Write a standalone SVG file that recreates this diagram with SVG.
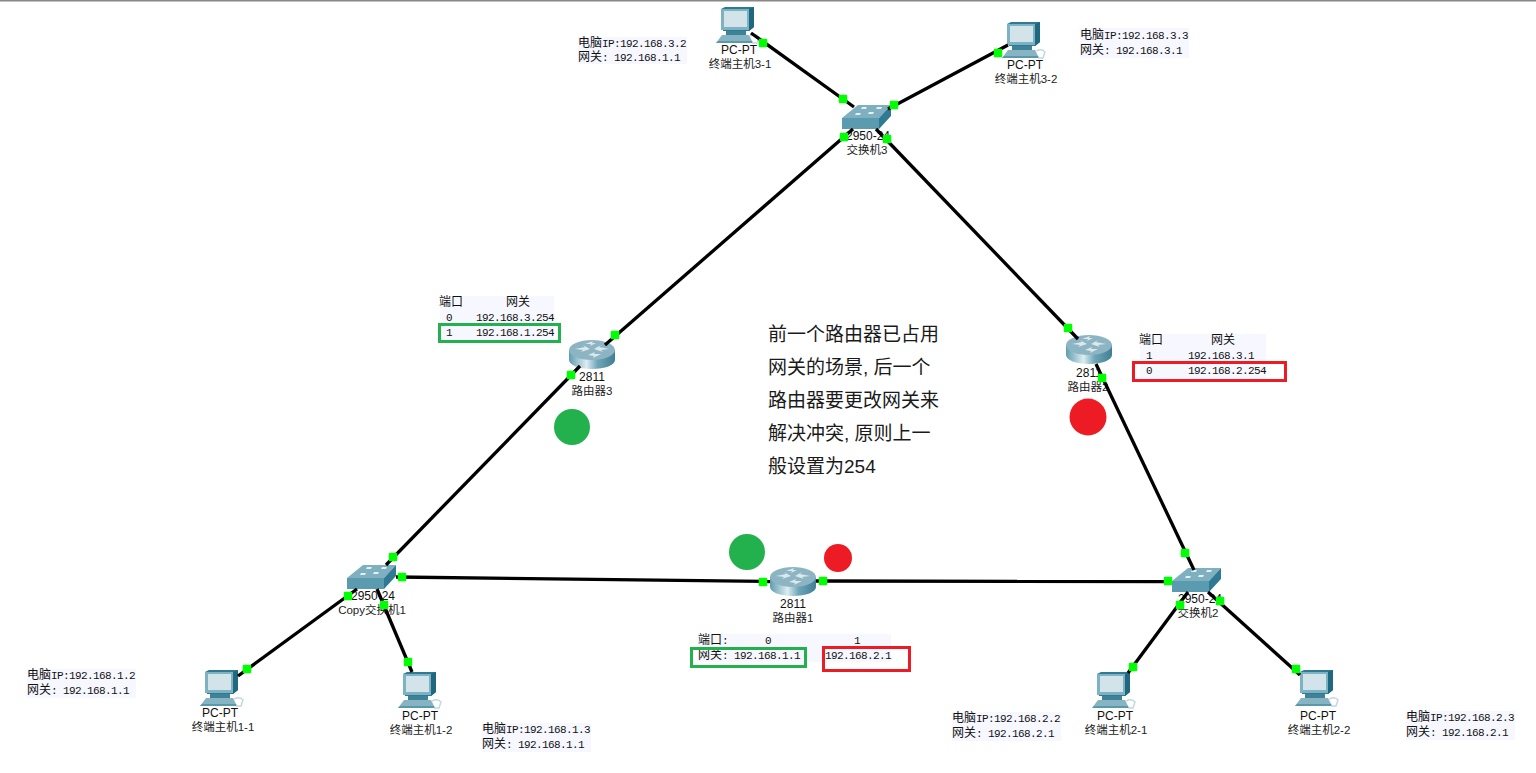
<svg xmlns="http://www.w3.org/2000/svg" width="1536" height="773" viewBox="0 0 1536 773">
<style>
text{fill:#111}
.d{font:12px "Liberation Sans","Noto Sans CJK SC",sans-serif;text-anchor:middle}
.n{font:11.500px "Liberation Sans","Noto Sans CJK SC",sans-serif;text-anchor:middle;fill:#222}
.m{font:11px "Liberation Mono","Noto Sans CJK SC",monospace;letter-spacing:-.6px}
.c{font-size:12px;font-family:"Noto Sans CJK SC",sans-serif;letter-spacing:0}
.bg{fill:#f7f8ff}
.big{font:19px "Liberation Sans","Noto Sans CJK SC",sans-serif;fill:#1a1a1a}
.l{fill:none;stroke:#000;stroke-width:3.300}
.p{fill:#0f0;stroke:#0f0;stroke-width:2.500;stroke-linejoin:round}
.gr{fill:none;stroke:#22b14c;stroke-width:3}
.rd{fill:none;stroke:#ed1c24;stroke-width:3}
</style>
<defs>
<linearGradient id="cyl" x1="0" x2="1" y1="0" y2="0">
<stop offset="0" stop-color="#5f9db0"/><stop offset=".38" stop-color="#dcecf0"/><stop offset=".62" stop-color="#6fa6b8"/><stop offset="1" stop-color="#3f7f94"/>
</linearGradient>
<symbol id="pc" width="48" height="38" viewBox="0 0 48 38" overflow="visible">
<path d="M10 24H30V29H10Z" fill="#3f8298"/>
<path d="M0 37 6 29H33L37 37Z" fill="#86b4c3"/>
<path d="M0 37H37L36 35H2Z" fill="#5b98ac"/>
<path d="M5 3 9 1H38V21L33 25H7Z" fill="#2f7a92"/>
<path d="M5 3H33V24H5Z" fill="#7db2c2"/>
<path d="M8 5H31V21H8Z" fill="#d2e3ea"/>
<path d="M33 3 38 1V21L33 25Z" fill="#1f6880"/>
<path d="M34 30Q40 27 43 31L41 37H36" fill="none" stroke="#c3d8df" stroke-width="1.500"/>
</symbol>
<symbol id="rt" width="46" height="30" viewBox="0 0 46 30" overflow="visible">
<path d="M0 10V20C0 25 10 29 23 29S46 25 46 20V10Z" fill="url(#cyl)"/>
<ellipse cx="23" cy="10" rx="23" ry="10" fill="#8db4c3"/>
<path d="M6 9 16 7 14 5 21 9 12 12 14 10ZM40 9 30 7 32 5 25 9 34 12 32 10ZM19 15 26 12 25 14 32 14 24 18 25 16ZM27 3 21 6 22 4 16 4 24 1 23 3Z" fill="#dbe8ec"/>
</symbol>
<symbol id="sw" width="50" height="24" viewBox="0 0 50 24" overflow="visible">
<path d="M0 13 16 0H49L37 13Z" fill="#7fb0c0"/>
<path d="M0 13H37V24H0Z" fill="#5b9bb0"/>
<path d="M37 13 49 0V11L37 24Z" fill="#2f7a92"/>
<path d="M13 10h5l1-2h-5zM26 9h5l1-2h-5zM19 4h5l1-2h-5zM34 4h5l1-2h-5z" fill="#e3eff3"/>
</symbol>
</defs>
<rect width="1536" height="773" fill="#fff"/>
<rect width="1536" height="1.500" fill="#888"/>

<g id="note-pc31"><rect class="bg" x="578" y="37" width="109" height="27"/><text class="m" x="578" y="47"><tspan class="c">电脑</tspan>IP:192.168.3.2</text><text class="m" x="578" y="61"><tspan class="c">网关</tspan>: 192.168.1.1</text></g>
<g id="note-pc32"><rect class="bg" x="1080" y="28" width="109" height="30"/><text class="m" x="1080" y="39"><tspan class="c">电脑</tspan>IP:192.168.3.3</text><text class="m" x="1080" y="54"><tspan class="c">网关</tspan>: 192.168.3.1</text></g>
<g id="note-pc11"><rect class="bg" x="27" y="669" width="109" height="29"/><text class="m" x="27" y="679"><tspan class="c">电脑</tspan>IP:192.168.1.2</text><text class="m" x="27" y="694"><tspan class="c">网关</tspan>: 192.168.1.1</text></g>
<g id="note-pc12"><rect class="bg" x="482" y="723" width="109" height="29"/><text class="m" x="482" y="733"><tspan class="c">电脑</tspan>IP:192.168.1.3</text><text class="m" x="482" y="748"><tspan class="c">网关</tspan>: 192.168.1.1</text></g>
<g id="note-pc21"><rect class="bg" x="952" y="712" width="109" height="29"/><text class="m" x="952" y="722"><tspan class="c">电脑</tspan>IP:192.168.2.2</text><text class="m" x="952" y="737"><tspan class="c">网关</tspan>: 192.168.2.1</text></g>
<g id="note-pc22"><rect class="bg" x="1406" y="711" width="109" height="29"/><text class="m" x="1406" y="721"><tspan class="c">电脑</tspan>IP:192.168.2.3</text><text class="m" x="1406" y="736"><tspan class="c">网关</tspan>: 192.168.2.1</text></g>

<g id="table-r3"><rect class="bg" x="440" y="296" width="114" height="45"/>
<text class="m" x="439" y="306"><tspan class="c">端口</tspan></text><text class="m" x="506" y="306"><tspan class="c">网关</tspan></text>
<text class="m" x="446" y="321">0</text><text class="m" x="476" y="321">192.168.3.254</text>
<text class="m" x="446" y="336">1</text><text class="m" x="476" y="336">192.168.1.254</text>
<rect class="gr" x="439.500" y="324.500" width="120" height="17"/></g>
<g id="table-r2"><rect class="bg" x="1140" y="334" width="126" height="45"/>
<text class="m" x="1139" y="344"><tspan class="c">端口</tspan></text><text class="m" x="1211" y="344"><tspan class="c">网关</tspan></text>
<text class="m" x="1146" y="359">1</text><text class="m" x="1188" y="359">192.168.3.1</text>
<text class="m" x="1146" y="374">0</text><text class="m" x="1188" y="374">192.168.2.254</text>
<rect class="rd" x="1133.500" y="362.500" width="152" height="18"/></g>
<g id="table-r1"><rect class="bg" x="697" y="634" width="194" height="28"/>
<text class="m" x="698" y="644"><tspan class="c">端口</tspan>:</text><text class="m" x="765" y="644">0</text><text class="m" x="854" y="644">1</text>
<text class="m" x="698" y="659"><tspan class="c">网关</tspan>: 192.168.1.1</text><text class="m" x="825" y="659">192.168.2.1</text>
<rect class="gr" x="691.500" y="648.500" width="114" height="18"/><rect class="rd" x="823.500" y="647.500" width="86" height="23"/></g>

<g id="note-main"><text class="big" x="768" y="341">前一个路由器已占用</text><text class="big" x="768" y="374">网关的场景, 后一个</text><text class="big" x="768" y="407">路由器要更改网关来</text><text class="big" x="768" y="440">解决冲突, 原则上一</text><text class="big" x="768" y="473">般设置为254</text></g>

<g id="marks"><circle cx="572" cy="427" r="18" fill="#22b14c"/><circle cx="1088" cy="417" r="18.500" fill="#ed1c24"/><circle cx="747" cy="552" r="18" fill="#22b14c"/><circle cx="838" cy="558" r="14" fill="#ed1c24"/></g>

<g id="pc31"><use href="#pc" x="716" y="6"/><text class="d" x="739" y="54">PC-PT</text><text class="n" x="740" y="68">终端主机3-1</text></g>
<g id="pc32"><use href="#pc" x="1002" y="21"/><text class="d" x="1025" y="69">PC-PT</text><text class="n" x="1026" y="83">终端主机3-2</text></g>
<g id="pc11"><use href="#pc" x="200" y="669"/><text class="d" x="220" y="717">PC-PT</text><text class="n" x="223" y="731">终端主机1-1</text></g>
<g id="pc12"><use href="#pc" x="398" y="671"/><text class="d" x="420" y="720">PC-PT</text><text class="n" x="421" y="734">终端主机1-2</text></g>
<g id="pc21"><use href="#pc" x="1092" y="671"/><text class="d" x="1115" y="720">PC-PT</text><text class="n" x="1116" y="734">终端主机2-1</text></g>
<g id="pc22"><use href="#pc" x="1295" y="669"/><text class="d" x="1318" y="720">PC-PT</text><text class="n" x="1319" y="734">终端主机2-2</text></g>
<g id="sw3"><use href="#sw" x="842" y="105"/><text class="d" x="868" y="140">2950-24</text><text class="n" x="867" y="154">交换机3</text></g>
<g id="sw1"><use href="#sw" x="347" y="565"/><text class="d" x="373" y="600">2950-24</text><text class="n" x="372" y="614">Copy交换机1</text></g>
<g id="sw2"><use href="#sw" x="1172" y="568"/><text class="d" x="1200" y="603">2950-24</text><text class="n" x="1198" y="617">交换机2</text></g>
<g id="r3"><use href="#rt" x="569" y="340"/><text class="d" x="592" y="381">2811</text><text class="n" x="592" y="395">路由器3</text></g>
<g id="r2"><use href="#rt" x="1066" y="335"/><text class="d" x="1089" y="377">2811</text><text class="n" x="1088" y="391">路由器2</text></g>
<g id="r1"><use href="#rt" x="770" y="567"/><text class="d" x="793" y="608">2811</text><text class="n" x="793" y="622">路由器1</text></g>

<g id="connectors">
<g>
<path class="l" d="M751 33 854 107"/>
<path class="l" d="M1008 45 888 109"/>
<path class="l" d="M853 129 605 345"/>
<path class="l" d="M876 129 1078 339"/>
<path class="l" d="M580 366 386 565"/>
<path class="l" d="M396 577 770 581.500"/>
<path class="l" d="M816 581 1172 581.500"/>
<path class="l" d="M1096 364 1194 570"/>
<path class="l" d="M357 589 238 676"/>
<path class="l" d="M377 589 412 672"/>
<path class="l" d="M1188 592 1128 673"/>
<path class="l" d="M1208 592 1300 675"/>
</g>
<g>
<rect class="p" x="760" y="40" width="6" height="6"/><rect class="p" x="840" y="96" width="6" height="6"/>
<rect class="p" x="995" y="50" width="6" height="6"/><rect class="p" x="891" y="102" width="6" height="6"/>
<rect class="p" x="841" y="134" width="6" height="6"/><rect class="p" x="612" y="332" width="6" height="6"/>
<rect class="p" x="884" y="136" width="6" height="6"/><rect class="p" x="1065" y="325" width="6" height="6"/>
<rect class="p" x="568" y="372" width="6" height="6"/><rect class="p" x="390" y="554" width="6" height="6"/>
<rect class="p" x="399" y="574" width="6" height="6"/><rect class="p" x="760" y="579" width="6" height="6"/>
<rect class="p" x="820" y="578" width="6" height="6"/><rect class="p" x="1165" y="578" width="6" height="6"/>
<rect class="p" x="1099" y="375" width="6" height="6"/><rect class="p" x="1182" y="550" width="6" height="6"/>
<rect class="p" x="345" y="593" width="6" height="6"/><rect class="p" x="244" y="666" width="6" height="6"/>
<rect class="p" x="381" y="602" width="6" height="6"/><rect class="p" x="405" y="659" width="6" height="6"/>
<rect class="p" x="1177" y="602" width="6" height="6"/><rect class="p" x="1130" y="664" width="6" height="6"/>
<rect class="p" x="1217" y="598" width="6" height="6"/><rect class="p" x="1293" y="666" width="6" height="6"/>
</g>
</g>
</svg>
